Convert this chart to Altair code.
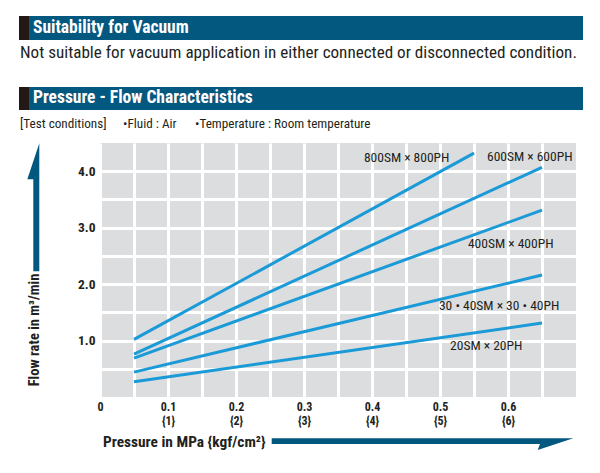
import altair as alt
import pandas as pd

# ---- data ----
series = ["800SM × 800PH", "600SM × 600PH", "400SM × 400PH",
          "30・40SM × 30・40PH", "20SM × 20PH"]
p_start = [0.05, 0.05, 0.05, 0.05, 0.05]
p_end = [0.55, 0.65, 0.65, 0.65, 0.65]
q_start = [1.02, 0.76, 0.69, 0.44, 0.27]
q_end = [4.32, 4.07, 3.31, 2.16, 1.31]

label_text = ["800SM × 800PH", "600SM × 600PH", "400SM × 400PH",
              "30 • 40SM × 30 • 40PH", "20SM × 20PH"]
label_x = [0.451, 0.632, 0.604, 0.587, 0.568]
label_y = [4.23, 4.25, 2.71, 1.61, 0.90]

x_ticks = [0, 0.05, 0.1, 0.15, 0.2, 0.25, 0.3, 0.35, 0.4, 0.45, 0.5, 0.55, 0.6, 0.65]
y_ticks = [0.5, 1.0, 1.5, 2.0, 2.5, 3.0, 3.5, 4.0]

FONT = "Roboto Condensed"
BLUE = "#1a9ad7"
BAR = "#03587f"
DARK = "#231f20"

rows = []
for s, x0, x1, y0, y1 in zip(series, p_start, p_end, q_start, q_end):
    rows.append({"series": s, "p": x0, "q": y0})
    rows.append({"series": s, "p": x1, "q": y1})
df = pd.DataFrame(rows)
lab = pd.DataFrame({"label": label_text, "p": label_x, "q": label_y})
one = pd.DataFrame({"a": [0]})

xscale = alt.Scale(domain=[0, 0.7], nice=False, zero=False)
yscale = alt.Scale(domain=[0, 4.5], nice=False, zero=False)

xaxis = alt.Axis(
    values=x_ticks, title=None, domain=False, ticks=False,
    grid=True, gridColor="white", gridWidth=3, gridOpacity=1,
    labelFont=FONT, labelFontWeight="bold", labelFontSize=12, labelColor=DARK,
    labelPadding=4, labelBaseline="top", labelLineHeight=14,
    labelFlush=False, labelOverlap=False,
    labelExpr="datum.value < 0.001 ? '0' : ((abs(datum.value*10 - round(datum.value*10)) < 0.001 && datum.value < 0.65) ? [format(datum.value, '.1f'), '{' + format(round(datum.value*10), 'd') + '}'] : '')",
)
yaxis = alt.Axis(
    values=y_ticks, title=None, domain=False, ticks=False,
    grid=True, gridColor="white", gridWidth=3, gridOpacity=1,
    labelFont=FONT, labelFontWeight="bold", labelFontSize=13.5, labelColor=DARK,
    labelPadding=5, labelOverlap=False,
    labelExpr="abs(datum.value - round(datum.value)) < 0.001 ? format(datum.value, '.1f') : ''",
)

lines = alt.Chart(df).mark_line(color=BLUE, strokeWidth=3, strokeCap="butt").encode(
    x=alt.X("p:Q", scale=xscale, axis=xaxis),
    y=alt.Y("q:Q", scale=yscale, axis=yaxis),
    detail="series:N",
)

labels = alt.Chart(lab).mark_text(font=FONT, fontSize=13.5, color=DARK).encode(
    x=alt.X("p:Q", scale=xscale, axis=xaxis),
    y=alt.Y("q:Q", scale=yscale, axis=yaxis),
    text="label:N",
)

def rect(x, x2, y, y2, color):
    return alt.Chart(one).mark_rect(color=color).encode(
        x=alt.value(x), x2=alt.value(x2), y=alt.value(y), y2=alt.value(y2))

def text(s, x, y, size, color=DARK, weight="normal", align="left", angle=0):
    return alt.Chart(one).mark_text(
        font=FONT, fontSize=size, fontWeight=weight, color=color,
        align=align, baseline="middle", angle=angle,
    ).encode(x=alt.value(x), y=alt.value(y), text=alt.value(s))

def arrow(path, x, y):
    return alt.Chart(one).mark_point(
        shape=path, size=4, filled=True, color=BAR, opacity=1, strokeWidth=0,
    ).encode(x=alt.value(x), y=alt.value(y))

deco = [
    rect(-81, 483, -127, -103, BAR),
    rect(-81, -71, -127, -103, "#231815"),
    text("Suitability for Vacuum", -67, -115, 17.5, "white", "bold"),
    text("Not suitable for vacuum application in either connected or disconnected condition.", -80, -90, 17.1),
    rect(-81, 483, -56, -33, BAR),
    rect(-81, -71, -56, -33, "#231815"),
    text("Pressure - Flow Characteristics", -67, -45, 17.5, "white", "bold"),
    text("[Test conditions]", -80, -19, 13.2),
    text("•Fluid : Air", 23, -19, 13.2),
    text("•Temperature : Room temperature", 95, -19, 13.2),
    text("Flow rate in m³/min", -65, 187, 14.5, weight="bold", align="center", angle=270),
    text("Pressure in MPa {kgf/cm²}", 3, 299, 15.4, weight="bold"),
    arrow("M0,0 L0,128 L-6,128 L-6,36 L-12,36 Z", -60.7, 0.3),
    arrow("M0,0 L-35.6,11.7 L-33.3,5.7 L-301.6,5.7 L-301.6,0 Z", 473.3, 295.3),
]

chart = alt.layer(lines, labels, *deco).properties(
    width=476, height=254,
    autosize=alt.AutoSizeParams(type="none"),
    padding={"left": 92, "top": 135, "right": 16, "bottom": 60},
).configure_view(fill="#dcdddf", stroke=None)

chart.save("out.html", embed_options={"renderer": "svg", "actions": False})
